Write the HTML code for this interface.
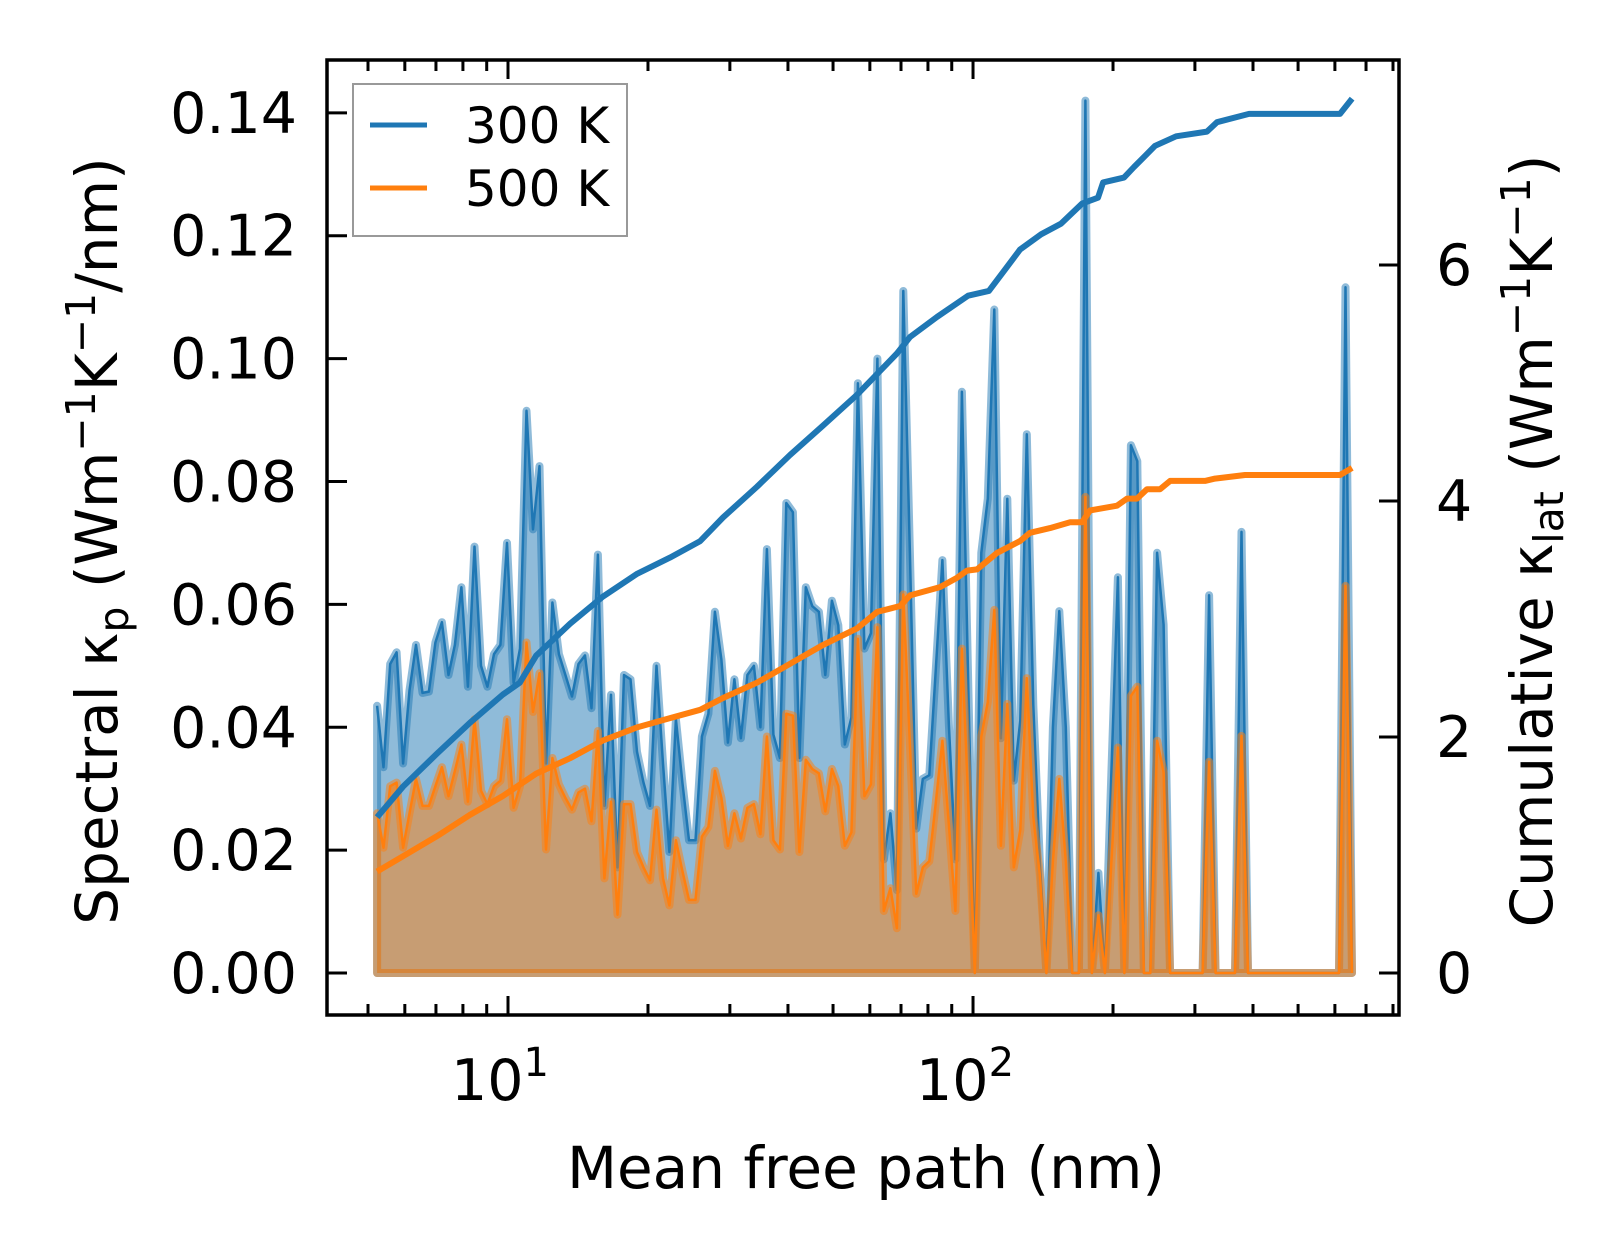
<!DOCTYPE html>
<html><head><meta charset="utf-8"><style>
html,body{margin:0;padding:0;background:#fff;}
svg{display:block;}
text{font-family:"DejaVu Sans","Liberation Sans",sans-serif;fill:#000;}
</style></head><body>
<svg id="chart" width="1623" height="1254" viewBox="0 0 1623 1254" xmlns="http://www.w3.org/2000/svg">
<rect x="0" y="0" width="1623" height="1254" fill="#fff"/>
<g id="plot"></g>
<g id="axes"></g>
</svg>
<script>
// ---- data ----
const mfp = [5.23,5.40,5.58,5.76,5.95,6.14,6.34,6.55,6.76,6.98,7.21,7.45,7.69,7.94,8.20,8.47,8.75,9.03,9.33,9.63,
9.95,10.28,10.61,10.96,11.32,11.69,12.07,12.46,12.87,13.29,13.73,14.18,14.64,15.12,15.61,16.12,16.65,17.20,17.76,18.34,
18.94,19.56,20.20,20.86,21.54,22.24,22.97,23.72,24.50,25.30,26.12,26.98,27.86,28.77,29.71,30.68,31.68,32.72,33.79,34.89,
36.03,37.21,38.43,39.68,40.98,42.32,43.70,45.13,46.61,48.13,49.71,51.33,53.01,54.75,56.54,58.39,60.30,62.27,64.30,66.41,
68.58,70.82,73.14,75.53,78.00,80.55,83.19,85.91,88.72,91.62,94.62,97.7,100.9,104.2,107.6,111.1,114.8,118.5,122.4,126.4,
130.5,134.8,139.2,143.8,148.5,153.3,158.3,163.5,168.9,174.4,180.1,186.0,192.1,198.4,204.9,211.6,218.5,225.6,233.0,240.6,
248.8,256.9,265.3,274.0,283.0,292.2,301.8,311.7,321.9,332.4,343.3,354.3,365.9,377.9,390.2,403.0,416.2,429.8,443.8,458.4,
473.4,488.9,504.8,521.4,538.4,556.0,574.2,593.0,612.4,632.4,653.1];
const spectral300 = [0.0435,0.0335,0.0503,0.0522,0.0341,0.0460,0.0534,0.0456,0.0458,0.0538,0.0571,0.0485,0.0534,0.0628,0.0466,0.0694,0.0500,0.0466,0.0519,0.0534,
0.0700,0.0472,0.0528,0.0915,0.0722,0.0825,0.0341,0.0603,0.0519,0.0485,0.0450,0.0503,0.0517,0.0431,0.0681,0.0272,0.0453,0.0172,0.0485,0.0478,
0.0360,0.0310,0.0272,0.0500,0.0341,0.0197,0.0413,0.0310,0.0216,0.0216,0.0385,0.0422,0.0588,0.0510,0.0375,0.0478,0.0382,0.0485,0.0500,0.0400,
0.0690,0.0388,0.0350,0.0765,0.0750,0.0350,0.0628,0.0597,0.0588,0.0485,0.0606,0.0566,0.0372,0.0416,0.096,0.0528,0.0553,0.100,0.0185,0.0260,
0.0135,0.111,0.0684,0.0235,0.0316,0.0322,0.0497,0.0672,0.0403,0.0185,0.0946,0.0466,0,0.0684,0.0772,0.108,0.0382,0.0772,0.0313,0.0411,
0.0877,0.0436,0.0182,0,0.0400,0.0589,0.0400,0,0,0.142,0,0.0163,0,0.0327,0.0644,0,0.0859,0.0833,0,0,
0.0684,0.0567,0,0,0,0,0,0,0.0615,0,0,0,0,0.0718,0,0,0,0,0,0,
0,0,0,0,0,0,0,0,0,0.1116,0];
const spectral500 = [0.0260,0.0204,0.0304,0.0310,0.0204,0.0260,0.0316,0.0272,0.0272,0.0304,0.0335,0.0288,0.0329,0.0372,0.0279,0.0413,0.0297,0.0275,0.0304,0.0313,
0.0413,0.0269,0.0304,0.0538,0.0425,0.0488,0.0201,0.0350,0.0307,0.0285,0.0266,0.0294,0.0300,0.0247,0.0394,0.0154,0.0279,0.0095,0.0275,0.0275,
0.0197,0.0172,0.0151,0.0266,0.0154,0.0110,0.0216,0.0166,0.0119,0.0119,0.0222,0.0238,0.0329,0.0285,0.0207,0.0260,0.0219,0.0269,0.0275,0.0226,
0.0385,0.0216,0.0201,0.0422,0.0419,0.0197,0.0347,0.0332,0.0325,0.0263,0.0332,0.0304,0.0207,0.0229,0.0544,0.0288,0.0307,0.0563,0.0101,0.0138,
0.0073,0.0616,0.0372,0.0129,0.0172,0.0182,0.0279,0.0378,0.0241,0.0101,0.0528,0.0279,0,0.0385,0.0441,0.0591,0.0207,0.0438,0.0172,0.0233,
0.0480,0.0254,0.0160,0,0.0182,0.0316,0.0182,0,0,0.0775,0,0.0094,0,0.0182,0.0367,0,0.0451,0.0466,0,0,
0.0378,0.0327,0,0,0,0,0,0,0.0344,0,0,0,0,0.0386,0,0,0,0,0,0,
0,0,0,0,0,0,0,0,0,0.063,0];
const cumMfp300 = [5.23,5.95,7.04,8.28,9.75,10.6,11.5,13.6,16.0,18.9,22.3,25.9,29.0,34.3,40.4,47.6,56.3,68.6,73.2,83.7,97.6,108.2,116.6,126.2,140.1,154.6,171.6,185.7,190.4,211.2,221.9,246.3,273.3,318.5,334.7,392.2,615.4,653.5];
const cum300 = [1.32,1.58,1.86,2.12,2.36,2.46,2.69,2.96,3.19,3.38,3.52,3.66,3.86,4.12,4.39,4.64,4.90,5.25,5.39,5.56,5.74,5.78,5.95,6.13,6.26,6.35,6.52,6.57,6.70,6.74,6.83,7.01,7.09,7.13,7.21,7.28,7.28,7.41];
const cumMfp500 = [5.23,5.95,7.04,8.28,9.75,11.5,13.6,16.0,18.9,22.3,25.9,29.0,34.3,40.4,47.6,56.3,62.2,69.7,73.2,84.9,92.4,97.1,102,112.6,126.2,132.6,146.4,161.7,171.6,178.5,204,214.4,225.3,236.7,252.5,265.3,315.4,331.4,384.5,615.4,653.5];
const cum500 = [0.86,0.99,1.16,1.34,1.50,1.69,1.82,1.97,2.08,2.16,2.23,2.33,2.46,2.62,2.78,2.92,3.06,3.11,3.20,3.27,3.35,3.41,3.42,3.56,3.66,3.73,3.77,3.82,3.82,3.92,3.96,4.02,4.02,4.10,4.10,4.17,4.17,4.19,4.22,4.22,4.28];
const leftTicks = [0,0.02,0.04,0.06,0.08,0.10,0.12,0.14];
const leftTickLabels = ["0.00","0.02","0.04","0.06","0.08","0.10","0.12","0.14"];
const rightTicks = [0,2,4,6];
const xMajor = [10,100];

// ---- axis functions ----
const L=327,R=1399,T=60,B=1015;
const xLogMin=0.6108, xLogMax=2.916;
function xs(v){return L+(Math.log10(v)-xLogMin)/(xLogMax-xLogMin)*(R-L);}
const yLmin=-0.00683, yLmax=0.1486;
function yl(v){return B-(v-yLmin)/(yLmax-yLmin)*(B-T);}
const yRmin=-0.356, yRmax=7.737;
function yr(v){return B-(v-yRmin)/(yRmax-yRmin)*(B-T);}

const NS="http://www.w3.org/2000/svg";
const plot=document.getElementById('plot');
const axes=document.getElementById('axes');
function mk(tag,attrs,parent){const e=document.createElementNS(NS,tag);for(const k in attrs)e.setAttribute(k,attrs[k]);parent.appendChild(e);return e;}

function spectral(vals,color,name){
  let pts=vals.map((v,i)=>xs(mfp[i]).toFixed(1)+','+yl(v).toFixed(1));
  const poly=[xs(mfp[0]).toFixed(1)+','+yl(0).toFixed(1)].concat(pts,[xs(mfp[mfp.length-1]).toFixed(1)+','+yl(0).toFixed(1)]);
  const f=mk('polygon',{points:poly.join(' '),fill:color,'fill-opacity':0.5,stroke:color,'stroke-opacity':0.5,'stroke-width':8,'stroke-linejoin':'round'},plot);
  
  
  const l=mk('polyline',{points:pts.join(' '),fill:'none',stroke:color,'stroke-width':2.5,'stroke-linejoin':'round'},plot);
  
  
}
spectral(spectral300,'#1f77b4','spectral-300k');
spectral(spectral500,'#ff7f0e','spectral-500k');

function cum(xv,yv,color,name){
  const pts=yv.map((v,i)=>xs(xv[i]).toFixed(1)+','+yr(v).toFixed(1));
  const l=mk('polyline',{points:pts.join(' '),fill:'none',stroke:color,'stroke-width':6,'stroke-linejoin':'round'},plot);
  
  
}
cum(cumMfp300,cum300,'#1f77b4','cumulative-300k');
cum(cumMfp500,cum500,'#ff7f0e','cumulative-500k');

// frame
const fr=mk('rect',{x:L,y:T,width:R-L,height:B-T,fill:'none',stroke:'#000','stroke-width':3.5},axes);



// x ticks
for(let d=1;d<=3;d++){for(let m=1;m<=9;m++){
  const val=m*Math.pow(10,d-1);
  const lv=Math.log10(val); if(lv<xLogMin||lv>xLogMax) continue;
  const x=xs(val); const len=(m===1)?19:11;
  const t1=mk('line',{x1:x,y1:B,x2:x,y2:B-len,stroke:'#000','stroke-width':3},axes);
  
  
  const t2=mk('line',{x1:x,y1:T,x2:x,y2:T+len,stroke:'#000','stroke-width':3},axes);
  
  
}}
xMajor.forEach((v,i)=>{
  const t=mk('text',{x:xs(v)-8,y:1100,'font-size':57,'text-anchor':'middle'},axes);
  t.innerHTML='10<tspan dy="-24" font-size="40">'+(i+1)+'</tspan>';
  
  
});
leftTicks.forEach((v,i)=>{
  const y=yl(v);
  const t=mk('line',{x1:L,y1:y,x2:L+20,y2:y,stroke:'#000','stroke-width':3},axes);
  
  
  const lb=mk('text',{x:297,y:y+20,'font-size':57,'text-anchor':'end'},axes);
  lb.textContent=leftTickLabels[i];
  
  
});
rightTicks.forEach(v=>{
  const y=yr(v);
  const t=mk('line',{x1:R,y1:y,x2:R-20,y2:y,stroke:'#000','stroke-width':3},axes);
  
  
  const lb=mk('text',{x:1436,y:y+20,'font-size':57,'text-anchor':'start'},axes);
  lb.textContent=String(v);
  
  
});
</script>
<script>
const svg=document.getElementById('chart');
svg.insertAdjacentHTML('beforeend',
'<text x="866" y="1188" font-size="58" text-anchor="middle">Mean free path (nm)</text>'+
'<text transform="translate(117,541) rotate(-90)" font-size="58" text-anchor="middle">Spectral κ<tspan font-size="41" dy="11">p</tspan><tspan dy="-11"> (Wm</tspan><tspan font-size="41" dy="-22">−1</tspan><tspan dy="22">K</tspan><tspan font-size="41" dy="-22">−1</tspan><tspan dy="22">/nm)</tspan></text>'+
'<text transform="translate(1552,541) rotate(-90)" font-size="58" text-anchor="middle">Cumulative κ<tspan font-size="41" dy="11">lat</tspan><tspan dy="-11"> (Wm</tspan><tspan font-size="41" dy="-22">−1</tspan><tspan dy="22">K</tspan><tspan font-size="41" dy="-22">−1</tspan><tspan dy="22">)</tspan></text>'+
'<g>'+
'<rect x="353" y="84" width="274" height="152" fill="#fff" fill-opacity="0.8" stroke="#999" stroke-width="2"/>'+
'<line x1="370" y1="125" x2="427" y2="125" stroke="#1f77b4" stroke-width="5"/>'+
'<text x="465" y="143" font-size="50">300 K</text>'+
'<line x1="370" y1="188" x2="427" y2="188" stroke="#ff7f0e" stroke-width="5"/>'+
'<text x="465" y="206" font-size="50">500 K</text>'+
'</g>');
</script>
</body></html>
